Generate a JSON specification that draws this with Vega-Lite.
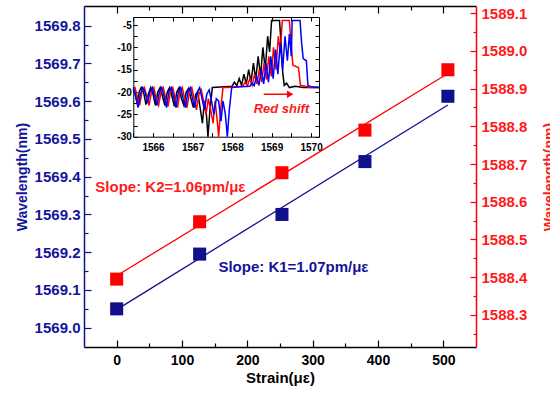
{
  "$schema": "https://vega.github.io/schema/vega-lite/v6.json",
  "width": 392,
  "height": 341,
  "autosize": "none",
  "padding": {"left": 84, "top": 6, "right": 74, "bottom": 46},
  "background": "white",
  "config": {
    "view": {"stroke": null},
    "axis": {"grid": false, "labelFont": "Liberation Sans", "titleFont": "Liberation Sans", "labelFontWeight": "bold", "titleFontWeight": "bold", "labelFlush": false, "labelOverlap": false}
  },
  "datasets": {
    "pts": [
      {"strain": 0, "blue": 1569.05, "red": 1588.395},
      {"strain": 127, "blue": 1569.195, "red": 1588.547},
      {"strain": 253, "blue": 1569.30, "red": 1588.677},
      {"strain": 380, "blue": 1569.44, "red": 1588.79},
      {"strain": 507, "blue": 1569.613, "red": 1588.95}
    ],
    "fit": [
      {"strain": 0, "blue": 1569.048, "red": 1588.404},
      {"strain": 507, "blue": 1569.59, "red": 1588.94}
    ],
    "spec": [
      {"s": "k", "wl": 1565.50, "db": -19.5}, {"s": "k", "wl": 1565.55, "db": -20.5}, {"s": "k", "wl": 1565.60, "db": -22.5}, {"s": "k", "wl": 1565.65, "db": -20}, {"s": "k", "wl": 1565.70, "db": -19}, {"s": "k", "wl": 1565.76, "db": -20}, {"s": "k", "wl": 1565.82, "db": -22.8}, {"s": "k", "wl": 1565.88, "db": -20.5}, {"s": "k", "wl": 1565.94, "db": -19}, {"s": "k", "wl": 1566.00, "db": -20.5}, {"s": "k", "wl": 1566.06, "db": -23}, {"s": "k", "wl": 1566.12, "db": -20}, {"s": "k", "wl": 1566.18, "db": -19}, {"s": "k", "wl": 1566.24, "db": -21}, {"s": "k", "wl": 1566.30, "db": -23}, {"s": "k", "wl": 1566.36, "db": -20}, {"s": "k", "wl": 1566.42, "db": -19}, {"s": "k", "wl": 1566.48, "db": -21}, {"s": "k", "wl": 1566.54, "db": -23.2}, {"s": "k", "wl": 1566.60, "db": -20}, {"s": "k", "wl": 1566.66, "db": -19}, {"s": "k", "wl": 1566.72, "db": -21.5}, {"s": "k", "wl": 1566.78, "db": -23}, {"s": "k", "wl": 1566.84, "db": -20}, {"s": "k", "wl": 1566.90, "db": -19.2}, {"s": "k", "wl": 1566.96, "db": -21.5}, {"s": "k", "wl": 1567.02, "db": -23.5}, {"s": "k", "wl": 1567.08, "db": -20.5}, {"s": "k", "wl": 1567.13, "db": -20}, {"s": "k", "wl": 1567.20, "db": -24}, {"s": "k", "wl": 1567.25, "db": -27}, {"s": "k", "wl": 1567.30, "db": -22}, {"s": "k", "wl": 1567.35, "db": -25}, {"s": "k", "wl": 1567.39, "db": -30}, {"s": "k", "wl": 1567.44, "db": -24}, {"s": "k", "wl": 1567.50, "db": -19}, {"s": "k", "wl": 1567.80, "db": -18.8}, {"s": "k", "wl": 1568.00, "db": -18.7}, {"s": "k", "wl": 1568.06, "db": -17.8}, {"s": "k", "wl": 1568.12, "db": -18.6}, {"s": "k", "wl": 1568.18, "db": -17}, {"s": "k", "wl": 1568.24, "db": -18.5}, {"s": "k", "wl": 1568.30, "db": -16}, {"s": "k", "wl": 1568.36, "db": -18.2}, {"s": "k", "wl": 1568.42, "db": -15}, {"s": "k", "wl": 1568.48, "db": -17.8}, {"s": "k", "wl": 1568.54, "db": -13.5}, {"s": "k", "wl": 1568.60, "db": -17.2}, {"s": "k", "wl": 1568.66, "db": -12}, {"s": "k", "wl": 1568.72, "db": -16.5}, {"s": "k", "wl": 1568.78, "db": -10}, {"s": "k", "wl": 1568.84, "db": -15}, {"s": "k", "wl": 1568.90, "db": -7.5}, {"s": "k", "wl": 1568.95, "db": -11}, {"s": "k", "wl": 1569.00, "db": -4}, {"s": "k", "wl": 1569.20, "db": -4}, {"s": "k", "wl": 1569.24, "db": -9}, {"s": "k", "wl": 1569.28, "db": -15.5}, {"s": "k", "wl": 1569.32, "db": -18.5}, {"s": "k", "wl": 1569.38, "db": -18}, {"s": "k", "wl": 1569.45, "db": -19}, {"s": "k", "wl": 1569.60, "db": -18.7}, {"s": "k", "wl": 1569.80, "db": -19}, {"s": "k", "wl": 1570.20, "db": -19},
      {"s": "r", "wl": 1565.50, "db": -19.5}, {"s": "r", "wl": 1565.54, "db": -19}, {"s": "r", "wl": 1565.60, "db": -21}, {"s": "r", "wl": 1565.66, "db": -23}, {"s": "r", "wl": 1565.72, "db": -20}, {"s": "r", "wl": 1565.78, "db": -19}, {"s": "r", "wl": 1565.84, "db": -21}, {"s": "r", "wl": 1565.90, "db": -23}, {"s": "r", "wl": 1565.96, "db": -20}, {"s": "r", "wl": 1566.02, "db": -19}, {"s": "r", "wl": 1566.08, "db": -21.5}, {"s": "r", "wl": 1566.14, "db": -23}, {"s": "r", "wl": 1566.20, "db": -20}, {"s": "r", "wl": 1566.26, "db": -19}, {"s": "r", "wl": 1566.32, "db": -21.5}, {"s": "r", "wl": 1566.38, "db": -23.2}, {"s": "r", "wl": 1566.44, "db": -20}, {"s": "r", "wl": 1566.50, "db": -19}, {"s": "r", "wl": 1566.56, "db": -21.5}, {"s": "r", "wl": 1566.62, "db": -23.5}, {"s": "r", "wl": 1566.68, "db": -20}, {"s": "r", "wl": 1566.74, "db": -19}, {"s": "r", "wl": 1566.80, "db": -21.5}, {"s": "r", "wl": 1566.86, "db": -23.5}, {"s": "r", "wl": 1566.92, "db": -20}, {"s": "r", "wl": 1566.98, "db": -19}, {"s": "r", "wl": 1567.04, "db": -21.5}, {"s": "r", "wl": 1567.10, "db": -24}, {"s": "r", "wl": 1567.16, "db": -20.5}, {"s": "r", "wl": 1567.22, "db": -19.5}, {"s": "r", "wl": 1567.28, "db": -22}, {"s": "r", "wl": 1567.34, "db": -25}, {"s": "r", "wl": 1567.40, "db": -21.5}, {"s": "r", "wl": 1567.46, "db": -24}, {"s": "r", "wl": 1567.52, "db": -27}, {"s": "r", "wl": 1567.57, "db": -22}, {"s": "r", "wl": 1567.62, "db": -26}, {"s": "r", "wl": 1567.66, "db": -30}, {"s": "r", "wl": 1567.71, "db": -24}, {"s": "r", "wl": 1567.77, "db": -19}, {"s": "r", "wl": 1567.90, "db": -19}, {"s": "r", "wl": 1568.27, "db": -18.7}, {"s": "r", "wl": 1568.33, "db": -17.8}, {"s": "r", "wl": 1568.39, "db": -18.6}, {"s": "r", "wl": 1568.45, "db": -17}, {"s": "r", "wl": 1568.51, "db": -18.5}, {"s": "r", "wl": 1568.57, "db": -16}, {"s": "r", "wl": 1568.63, "db": -18.2}, {"s": "r", "wl": 1568.69, "db": -15}, {"s": "r", "wl": 1568.75, "db": -17.8}, {"s": "r", "wl": 1568.81, "db": -13.5}, {"s": "r", "wl": 1568.87, "db": -17.2}, {"s": "r", "wl": 1568.93, "db": -12}, {"s": "r", "wl": 1568.99, "db": -16.5}, {"s": "r", "wl": 1569.05, "db": -10}, {"s": "r", "wl": 1569.11, "db": -15}, {"s": "r", "wl": 1569.17, "db": -7.5}, {"s": "r", "wl": 1569.22, "db": -11}, {"s": "r", "wl": 1569.27, "db": -4}, {"s": "r", "wl": 1569.45, "db": -4}, {"s": "r", "wl": 1569.50, "db": -10}, {"s": "r", "wl": 1569.54, "db": -14}, {"s": "r", "wl": 1569.68, "db": -14.5}, {"s": "r", "wl": 1569.73, "db": -18.5}, {"s": "r", "wl": 1569.85, "db": -18.7}, {"s": "r", "wl": 1570.00, "db": -19}, {"s": "r", "wl": 1570.20, "db": -19},
      {"s": "b", "wl": 1565.50, "db": -19}, {"s": "b", "wl": 1565.56, "db": -21}, {"s": "b", "wl": 1565.62, "db": -23.5}, {"s": "b", "wl": 1565.68, "db": -20.5}, {"s": "b", "wl": 1565.74, "db": -19}, {"s": "b", "wl": 1565.80, "db": -20}, {"s": "b", "wl": 1565.86, "db": -22.5}, {"s": "b", "wl": 1565.92, "db": -20}, {"s": "b", "wl": 1565.98, "db": -19}, {"s": "b", "wl": 1566.04, "db": -21}, {"s": "b", "wl": 1566.10, "db": -23}, {"s": "b", "wl": 1566.16, "db": -20}, {"s": "b", "wl": 1566.22, "db": -19}, {"s": "b", "wl": 1566.28, "db": -21}, {"s": "b", "wl": 1566.34, "db": -23.5}, {"s": "b", "wl": 1566.40, "db": -20}, {"s": "b", "wl": 1566.46, "db": -19}, {"s": "b", "wl": 1566.52, "db": -21}, {"s": "b", "wl": 1566.58, "db": -23.5}, {"s": "b", "wl": 1566.64, "db": -20}, {"s": "b", "wl": 1566.70, "db": -19}, {"s": "b", "wl": 1566.76, "db": -21.5}, {"s": "b", "wl": 1566.82, "db": -23.5}, {"s": "b", "wl": 1566.88, "db": -20}, {"s": "b", "wl": 1566.94, "db": -19}, {"s": "b", "wl": 1567.00, "db": -21.5}, {"s": "b", "wl": 1567.06, "db": -23.5}, {"s": "b", "wl": 1567.12, "db": -20}, {"s": "b", "wl": 1567.18, "db": -19}, {"s": "b", "wl": 1567.24, "db": -21.5}, {"s": "b", "wl": 1567.30, "db": -24}, {"s": "b", "wl": 1567.36, "db": -20.5}, {"s": "b", "wl": 1567.42, "db": -19.5}, {"s": "b", "wl": 1567.48, "db": -22}, {"s": "b", "wl": 1567.54, "db": -25}, {"s": "b", "wl": 1567.60, "db": -21.5}, {"s": "b", "wl": 1567.66, "db": -22}, {"s": "b", "wl": 1567.72, "db": -26.5}, {"s": "b", "wl": 1567.77, "db": -22}, {"s": "b", "wl": 1567.83, "db": -25}, {"s": "b", "wl": 1567.88, "db": -30}, {"s": "b", "wl": 1567.93, "db": -24}, {"s": "b", "wl": 1567.99, "db": -19}, {"s": "b", "wl": 1568.20, "db": -18.8}, {"s": "b", "wl": 1568.45, "db": -18.7}, {"s": "b", "wl": 1568.50, "db": -18}, {"s": "b", "wl": 1568.56, "db": -18.6}, {"s": "b", "wl": 1568.62, "db": -16.5}, {"s": "b", "wl": 1568.68, "db": -18.5}, {"s": "b", "wl": 1568.74, "db": -15}, {"s": "b", "wl": 1568.80, "db": -18.2}, {"s": "b", "wl": 1568.86, "db": -13.5}, {"s": "b", "wl": 1568.92, "db": -17.8}, {"s": "b", "wl": 1568.98, "db": -12}, {"s": "b", "wl": 1569.04, "db": -17}, {"s": "b", "wl": 1569.10, "db": -10.5}, {"s": "b", "wl": 1569.16, "db": -16}, {"s": "b", "wl": 1569.22, "db": -9}, {"s": "b", "wl": 1569.28, "db": -15}, {"s": "b", "wl": 1569.34, "db": -7.5}, {"s": "b", "wl": 1569.40, "db": -13}, {"s": "b", "wl": 1569.45, "db": -7}, {"s": "b", "wl": 1569.50, "db": -12}, {"s": "b", "wl": 1569.52, "db": -4}, {"s": "b", "wl": 1569.72, "db": -4}, {"s": "b", "wl": 1569.76, "db": -9}, {"s": "b", "wl": 1569.80, "db": -12.5}, {"s": "b", "wl": 1569.88, "db": -13}, {"s": "b", "wl": 1569.92, "db": -18.5}, {"s": "b", "wl": 1570.00, "db": -18.8}, {"s": "b", "wl": 1570.20, "db": -19}
    ]
  },
  "layer": [
    {
      "layer": [
        {
          "layer": [
            {
              "data": {"name": "fit"},
              "mark": {"type": "line", "color": "#10108c", "strokeWidth": 1.3},
              "encoding": {
                "x": {"field": "strain", "type": "quantitative", "scale": {"domain": [-50, 550], "nice": false, "zero": false},
                  "axis": {"orient": "bottom", "values": [0, 100, 200, 300, 400, 500], "tickSize": -7, "tickWidth": 1.2, "tickColor": "black", "labelPadding": 13, "labelFontSize": 14, "labelColor": "black", "domainColor": "black", "domainWidth": 1.5, "title": "Strain(με)", "titleFontSize": 15, "titleColor": "black", "titlePadding": 3}},
                "y": {"field": "blue", "type": "quantitative", "scale": {"domain": [1568.949, 1569.852], "nice": false, "zero": false},
                  "axis": {"orient": "left", "values": [1569.0, 1569.1, 1569.2, 1569.3, 1569.4, 1569.5, 1569.6, 1569.7, 1569.8], "format": ".1f", "tickSize": -7, "tickWidth": 1.2, "tickColor": "#10108c", "labelPadding": 11, "labelFontSize": 15, "labelColor": "#14149a", "domainColor": "#10108c", "domainWidth": 1.5, "title": "Wavelength(nm)", "titleFontSize": 14, "titleColor": "#14149a", "titlePadding": 5}}
              }
            },
            {
              "data": {"name": "pts"},
              "mark": {"type": "point", "shape": "square", "filled": true, "size": 170, "color": "#10108c", "opacity": 1},
              "encoding": {
                "x": {"field": "strain", "type": "quantitative", "scale": {"domain": [-50, 550], "nice": false, "zero": false}, "axis": null},
                "y": {"field": "blue", "type": "quantitative", "scale": {"domain": [1568.949, 1569.852], "nice": false, "zero": false}, "axis": null}
              }
            },
            {
              "data": {"name": "pts"},
              "mark": {"type": "point", "opacity": 0},
              "encoding": {
                "x": {"field": "strain", "type": "quantitative", "scale": {"domain": [-50, 550], "nice": false, "zero": false},
                  "axis": {"orient": "bottom", "values": [50, 150, 250, 350, 450], "tickSize": -4, "tickWidth": 1.2, "tickColor": "black", "labels": false, "domain": false, "title": null}},
                "y": {"field": "blue", "type": "quantitative", "scale": {"domain": [1568.949, 1569.852], "nice": false, "zero": false},
                  "axis": {"orient": "left", "values": [1569.05, 1569.15, 1569.25, 1569.35, 1569.45, 1569.55, 1569.65, 1569.75], "tickSize": -4, "tickWidth": 1.2, "tickColor": "#10108c", "labels": false, "domain": false, "title": null}}
              }
            },
            {
              "data": {"name": "pts"},
              "mark": {"type": "point", "opacity": 0},
              "encoding": {
                "x": {"field": "strain", "type": "quantitative", "scale": {"domain": [-50, 550], "nice": false, "zero": false},
                  "axis": {"orient": "top", "values": [0, 100, 200, 300, 400, 500], "tickSize": -7, "tickWidth": 1.2, "tickColor": "black", "labels": false, "domainColor": "black", "domainWidth": 1.5, "title": null}},
                "y": {"field": "blue", "type": "quantitative", "scale": {"domain": [1568.949, 1569.852], "nice": false, "zero": false}, "axis": null}
              }
            },
            {
              "data": {"name": "pts"},
              "mark": {"type": "point", "opacity": 0},
              "encoding": {
                "x": {"field": "strain", "type": "quantitative", "scale": {"domain": [-50, 550], "nice": false, "zero": false},
                  "axis": {"orient": "top", "values": [50, 150, 250, 350, 450], "tickSize": -4, "tickWidth": 1.2, "tickColor": "black", "labels": false, "domain": false, "title": null}},
                "y": {"field": "blue", "type": "quantitative", "scale": {"domain": [1568.949, 1569.852], "nice": false, "zero": false}, "axis": null}
              }
            },
            {
              "data": {"values": [{"t": "Slope: K1=1.07pm/με"}]},
              "mark": {"type": "text", "align": "left", "baseline": "middle", "font": "Liberation Sans", "fontWeight": "bold", "fontSize": 15, "color": "#14149a"},
              "encoding": {
                "x": {"datum": 155.7, "type": "quantitative", "scale": {"domain": [-50, 550], "nice": false, "zero": false}, "axis": null},
                "y": {"datum": 1569.161, "type": "quantitative", "scale": {"domain": [1568.949, 1569.852], "nice": false, "zero": false}, "axis": null},
                "text": {"field": "t"}
              }
            },
            {
              "data": {"values": [{"t": "Slope: K2=1.06pm/με"}]},
              "mark": {"type": "text", "align": "left", "baseline": "middle", "font": "Liberation Sans", "fontWeight": "bold", "fontSize": 15, "color": "#ff1a1a"},
              "encoding": {
                "x": {"datum": -32.6, "type": "quantitative", "scale": {"domain": [-50, 550], "nice": false, "zero": false}, "axis": null},
                "y": {"datum": 1569.373, "type": "quantitative", "scale": {"domain": [1568.949, 1569.852], "nice": false, "zero": false}, "axis": null},
                "text": {"field": "t"}
              }
            }
          ],
          "resolve": {"axis": {"x": "independent", "y": "independent"}}
        },
        {
          "layer": [
            {
              "data": {"name": "fit"},
              "mark": {"type": "line", "color": "#ff0000", "strokeWidth": 1.3},
              "encoding": {
                "x": {"field": "strain", "type": "quantitative", "scale": {"domain": [-50, 550], "nice": false, "zero": false}, "axis": null},
                "y": {"field": "red", "type": "quantitative", "scale": {"domain": [1588.215, 1589.119], "nice": false, "zero": false},
                  "axis": {"orient": "right", "values": [1588.3, 1588.4, 1588.5, 1588.6, 1588.7, 1588.8, 1588.9, 1589.0, 1589.1], "format": ".1f", "tickSize": -6, "tickWidth": 1.2, "tickColor": "#ff0000", "labelPadding": 11, "labelFontSize": 15, "labelColor": "#ff1a1a", "domainColor": "#ff0000", "domainWidth": 1.5, "title": "Wavelength(nm)", "titleAngle": 270, "titleBaseline": "top", "titleFontSize": 14, "titleColor": "#ff1a1a", "titlePadding": 16}}
              }
            },
            {
              "data": {"name": "pts"},
              "mark": {"type": "point", "shape": "square", "filled": true, "size": 170, "color": "#ff0000", "opacity": 1},
              "encoding": {
                "x": {"field": "strain", "type": "quantitative", "scale": {"domain": [-50, 550], "nice": false, "zero": false}, "axis": null},
                "y": {"field": "red", "type": "quantitative", "scale": {"domain": [1588.215, 1589.119], "nice": false, "zero": false}, "axis": null}
              }
            },
            {
              "data": {"name": "pts"},
              "mark": {"type": "point", "opacity": 0},
              "encoding": {
                "x": {"field": "strain", "type": "quantitative", "scale": {"domain": [-50, 550], "nice": false, "zero": false}, "axis": null},
                "y": {"field": "red", "type": "quantitative", "scale": {"domain": [1588.215, 1589.119], "nice": false, "zero": false},
                  "axis": {"orient": "right", "values": [1588.25, 1588.35, 1588.45, 1588.55, 1588.65, 1588.75, 1588.85, 1588.95, 1589.05], "tickSize": -3, "tickWidth": 1.2, "tickColor": "#ff0000", "labels": false, "domain": false, "title": null}}
              }
            }
          ],
          "resolve": {"axis": {"x": "independent", "y": "independent"}}
        }
      ],
      "resolve": {"scale": {"y": "independent"}, "axis": {"x": "independent", "y": "independent"}}
    },
    {
      "layer": [
        {
          "data": {"name": "spec"},
          "mark": {"type": "line", "strokeWidth": 1.5},
          "encoding": {
            "x": {"field": "wl", "type": "quantitative", "scale": {"domain": [1565.5, 1570.2], "range": [49.3, 235], "nice": false, "zero": false},
              "axis": {"orient": "bottom", "offset": -210.3, "values": [1565.5, 1566, 1566.5, 1567, 1567.5, 1568, 1568.5, 1569, 1569.5, 1570], "labelExpr": "datum.value % 1 === 0 ? '' + datum.value : ''", "tickSize": -4, "tickColor": "black", "labelPadding": 10, "labelFontSize": 10, "labelColor": "black", "domainColor": "black", "domainWidth": 1, "title": null}},
            "y": {"field": "db", "type": "quantitative", "scale": {"domain": [-30, -3.2], "range": [130.7, 11], "nice": false, "zero": false},
              "axis": {"orient": "left", "offset": -49.3, "values": [-30, -27.5, -25, -22.5, -20, -17.5, -15, -12.5, -10, -7.5, -5], "labelExpr": "datum.value % 5 === 0 ? '' + datum.value : ''", "tickSize": -4, "tickColor": "black", "labelPadding": 6, "labelFontSize": 10, "labelColor": "black", "domainColor": "black", "domainWidth": 1, "title": null}},
            "color": {"field": "s", "type": "nominal", "scale": {"domain": ["k", "r", "b"], "range": ["#000000", "#ff0000", "#0000ff"]}, "legend": null}
          }
        },
        {
          "data": {"name": "spec"},
          "mark": {"type": "point", "opacity": 0},
          "encoding": {
            "x": {"field": "wl", "type": "quantitative", "scale": {"domain": [1565.5, 1570.2], "range": [49.3, 235], "nice": false, "zero": false},
              "axis": {"orient": "top", "offset": -11, "values": [1565.5, 1566, 1566.5, 1567, 1567.5, 1568, 1568.5, 1569, 1569.5, 1570], "tickSize": -4, "tickColor": "black", "labels": false, "domainColor": "black", "domainWidth": 1, "title": null}},
            "y": {"field": "db", "type": "quantitative", "scale": {"domain": [-30, -3.2], "range": [130.7, 11], "nice": false, "zero": false},
              "axis": {"orient": "right", "offset": -157, "values": [-30, -27.5, -25, -22.5, -20, -17.5, -15, -12.5, -10, -7.5, -5], "tickSize": -4, "tickColor": "black", "labels": false, "domainColor": "black", "domainWidth": 1, "title": null}}
          }
        },
        {
          "data": {"values": [{"t": "arrow"}]},
          "mark": {"type": "rule", "color": "#ff0000", "strokeWidth": 1.5},
          "encoding": {
            "x": {"datum": 1568.8, "type": "quantitative", "scale": {"domain": [1565.5, 1570.2], "range": [49.3, 235], "nice": false, "zero": false}, "axis": null},
            "x2": {"datum": 1569.42},
            "y": {"datum": -20.5, "type": "quantitative", "scale": {"domain": [-30, -3.2], "range": [130.7, 11], "nice": false, "zero": false}, "axis": null}
          }
        },
        {
          "data": {"values": [{"t": "head"}]},
          "mark": {"type": "point", "shape": "triangle-right", "filled": true, "size": 55, "color": "#ff0000", "opacity": 1},
          "encoding": {
            "x": {"datum": 1569.47, "type": "quantitative", "scale": {"domain": [1565.5, 1570.2], "range": [49.3, 235], "nice": false, "zero": false}, "axis": null},
            "y": {"datum": -20.5, "type": "quantitative", "scale": {"domain": [-30, -3.2], "range": [130.7, 11], "nice": false, "zero": false}, "axis": null}
          }
        },
        {
          "data": {"values": [{"t": "Red shift"}]},
          "mark": {"type": "text", "align": "center", "baseline": "middle", "font": "Liberation Sans", "fontWeight": "bold", "fontStyle": "italic", "fontSize": 13, "color": "#ff1a1a"},
          "encoding": {
            "x": {"datum": 1569.25, "type": "quantitative", "scale": {"domain": [1565.5, 1570.2], "range": [49.3, 235], "nice": false, "zero": false}, "axis": null},
            "y": {"datum": -23.7, "type": "quantitative", "scale": {"domain": [-30, -3.2], "range": [130.7, 11], "nice": false, "zero": false}, "axis": null},
            "text": {"field": "t"}
          }
        }
      ],
      "resolve": {"axis": {"x": "independent", "y": "independent"}}
    }
  ],
  "resolve": {"scale": {"x": "independent", "y": "independent"}, "axis": {"x": "independent", "y": "independent"}}
}
